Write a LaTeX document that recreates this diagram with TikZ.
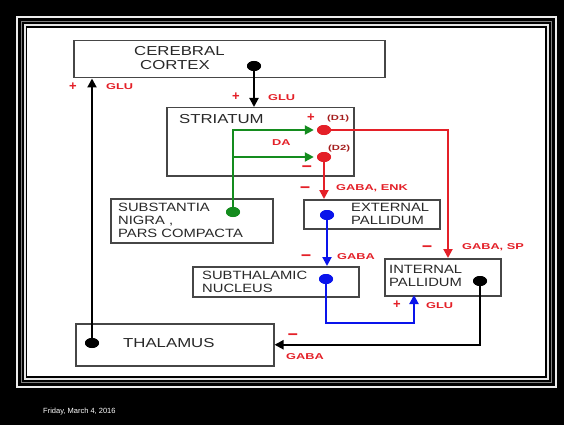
\documentclass[tikz,border=0pt]{standalone}
\usepackage{fontspec}
\usetikzlibrary{arrows.meta,shapes.geometric}
\newfontfamily\bigfont[FakeStretch=1.29]{Liberation Sans}
\newfontfamily\smallfont[FakeStretch=1.23]{Liberation Sans}
\newfontfamily\labfont[FakeStretch=1.5]{Liberation Sans}
\newfontfamily\signfont{Liberation Sans}
\newfontfamily\datefont{Liberation Sans}

\definecolor{boxline}{RGB}{70,70,70}
\definecolor{boxtext}{RGB}{40,40,40}
\definecolor{lred}{RGB}{228,32,40}
\definecolor{dred}{RGB}{165,30,30}
\definecolor{pgreen}{RGB}{20,140,30}
\definecolor{pblue}{RGB}{10,20,235}

\tikzset{
  region/.style={draw=boxline, line width=1.5pt, fill=white, inner sep=0pt, anchor=north west},
  bigtxt/.style={inner sep=0pt, anchor=base west, text=boxtext, font=\bigfont\fontsize{13}{13}\selectfont},
  smalltxt/.style={inner sep=0pt, anchor=base west, text=boxtext, font=\smallfont\fontsize{12}{12}\selectfont},
  lab/.style={inner sep=0pt, anchor=base west, text=lred, font=\labfont\bfseries\fontsize{8.5}{8.5}\selectfont},
  rlab/.style={inner sep=0pt, anchor=base west, text=dred, font=\labfont\bfseries\fontsize{7.5}{7.5}\selectfont},
  plussign/.style={inner sep=0pt, text=lred, font=\signfont\bfseries\fontsize{13}{13}\selectfont},
  minussign/.style={inner sep=0pt, text=lred, font=\signfont\bfseries\fontsize{18}{18}\selectfont},
  dot/.style={ellipse, minimum width=14pt, minimum height=10pt, inner sep=0pt},
  conn/.style={line width=2pt},
  tip/.style={-{Triangle[length=9pt,width=9pt]}},
}

\begin{document}
\begin{tikzpicture}[x=1pt,y=-1pt]
\useasboundingbox (0,0) rectangle (564,425);

% slide frame
\fill[black] (0,0) rectangle (564,425);
\draw[white!85!gray, line width=2pt] (17,17) rectangle (556,387);
\draw[gray, line width=1.2pt] (21.5,21.5) rectangle (551.5,382.5);
\draw[white!80!gray, line width=1.5pt] (25,25) rectangle (548,379);
\fill[white] (27,28) rectangle (545,376);
\node[inner sep=0pt, anchor=base west, text=white, font=\datefont\fontsize{7.5}{7.5}\selectfont] (date) at (43,413) {Friday, March 4, 2016};

% regions
\node[region, minimum width=311pt, minimum height=37pt] (ctx) at (73,40) {};
\node[region, minimum width=187pt, minimum height=68pt] (str) at (166,107) {};
\node[region, minimum width=162pt, minimum height=44pt] (sn)  at (110,198) {};
\node[region, minimum width=136pt, minimum height=29pt] (gpe) at (303,199) {};
\node[region, minimum width=166pt, minimum height=30pt] (stn) at (192,266) {};
\node[region, minimum width=116pt, minimum height=37pt] (gpi) at (384,258) {};
\node[region, minimum width=198pt, minimum height=42pt] (tha) at (75,323) {};

% region names
\node[bigtxt] (ctx1) at (134,56) {CEREBRAL};
\node[bigtxt] (ctx2) at (140,70) {CORTEX};
\node[bigtxt] (strt) at (179,123) {STRIATUM};
\node[smalltxt] (sn1) at (118,211) {SUBSTANTIA};
\node[smalltxt] (sn2) at (118,224) {NIGRA ,};
\node[smalltxt] (sn3) at (118,237) {PARS COMPACTA};
\node[smalltxt] (gpe1) at (351,211) {EXTERNAL};
\node[smalltxt] (gpe2) at (351,224) {PALLIDUM};
\node[smalltxt] (stn1) at (202,279) {SUBTHALAMIC};
\node[smalltxt] (stn2) at (202,292) {NUCLEUS};
\node[smalltxt] (gpi1) at (389,273) {INTERNAL};
\node[smalltxt] (gpi2) at (389,286) {PALLIDUM};
\node[bigtxt] (that) at (123,347) {THALAMUS};

% terminals
\node[dot, fill=black]  (cd)   at (254,66)  {};
\node[dot, fill=black]  (thd)  at (92,343)  {};
\node[dot, fill=pgreen] (snd)  at (233,212) {};
\node[dot, fill=lred]   (d1)   at (324,130) {};
\node[dot, fill=lred]   (d2)   at (324,157) {};
\node[dot, fill=pblue]  (gped) at (327,215) {};
\node[dot, fill=pblue]  (stnd) at (326,279) {};
\node[dot, fill=black]  (gpid) at (480,281) {};

% bends
\coordinate (gj)    at (233,157);
\coordinate (gpiin) at (448,258);
\coordinate (bl)    at (326,323);
\coordinate (gpiglu) at (414,295);

% pathways
\draw[conn, tip] (cd) -- (cd |- str.north);
\draw[conn, tip] (thd) -- (thd |- ctx.south);
\draw[conn, tip, pgreen, shorten >=3pt] (snd) |- (d1);
\draw[conn, tip, pgreen, shorten >=3pt] (gj) -- (d2);
\draw[conn, tip, lred] (d1) -| (gpiin);
\draw[conn, tip, lred] (d2) -- (d2 |- gpe.north);
\draw[conn, tip, pblue] (gped) -- (gped |- stn.north);
\draw[conn, tip, pblue] (stnd) -- (bl) -| (gpiglu);
\draw[conn, tip] (gpid) |- (tha.east);

% redraw terminals above the lines
\fill[black]  (cd)   ellipse (7pt and 5pt);
\fill[black]  (thd)  ellipse (7pt and 5pt);
\fill[pgreen] (snd)  ellipse (7pt and 5pt);
\fill[lred]   (d1)   ellipse (7pt and 5pt);
\fill[lred]   (d2)   ellipse (7pt and 5pt);
\fill[pblue]  (gped) ellipse (7pt and 5pt);
\fill[pblue]  (stnd) ellipse (7pt and 5pt);
\fill[black]  (gpid) ellipse (7pt and 5pt);

% transmitter labels
\node[plussign] (p1) at (73,87) {+};
\node[lab] (l1) at (106,90) {GLU};
\node[plussign] (p2) at (236,97) {+};
\node[lab] (l2) at (268,100) {GLU};
\node[plussign] (p3) at (311,118) {+};
\node[rlab] (r1) at (327,121) {(D1)};
\node[rlab] (r2) at (328,150) {(D2)};
\node[lab] (da) at (272,145) {DA};
\node[minussign] (m1) at (307,169) {–};
\node[minussign] (m2) at (305,190) {–};
\node[lab] (l3) at (336,190) {GABA, ENK};
\node[minussign] (m3) at (306,258) {–};
\node[lab] (l4) at (337,259) {GABA};
\node[minussign] (m4) at (427,249) {–};
\node[lab] (l5) at (462,249) {GABA, SP};
\node[plussign] (p4) at (397,305) {+};
\node[lab] (l6) at (426,308) {GLU};
\node[minussign] (m5) at (293,337) {–};
\node[lab] (l7) at (286,359) {GABA};
\end{tikzpicture}
\end{document}
